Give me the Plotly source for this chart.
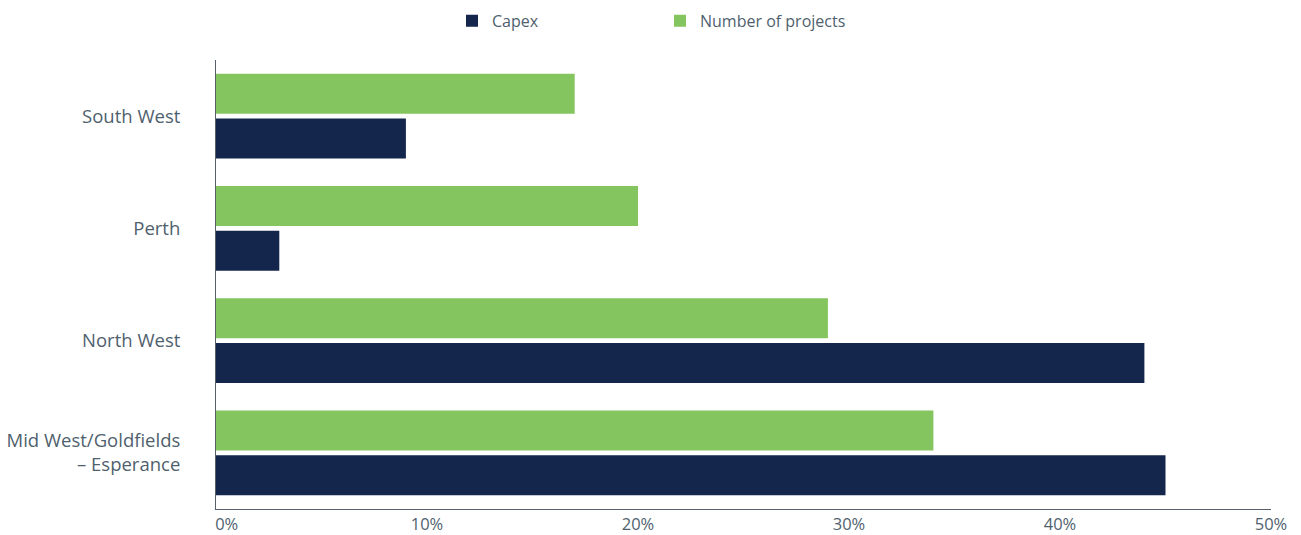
import plotly.graph_objects as go

regions = ["Mid West/Goldfields<br>– Esperance", "North West", "Perth", "South West"]
capex = [45, 44, 3, 9]
num_projects = [34, 29, 20, 17]
x_ticks = [0, 10, 20, 30, 40, 50]
x_tick_labels = ["\u00a0\u00a0\u00a0\u00a0\u00a00%", "10%", "20%", "30%", "40%", "50%"]

NAVY = "#14264c"
GREEN = "#84c55f"
TEXT = "#4f5f6e"
AXIS = "#56606b"

fig = go.Figure()
fig.add_trace(go.Bar(y=regions, x=capex, orientation="h", name="Capex",
                     marker=dict(color=NAVY, line=dict(width=0))))
fig.add_trace(go.Bar(y=regions, x=num_projects, orientation="h", name="Number of projects",
                     marker=dict(color=GREEN, line=dict(width=0))))

fig.update_layout(
    width=1301, height=535,
    margin=dict(l=216, r=30, t=60, b=26, autoexpand=False),
    paper_bgcolor="white", plot_bgcolor="white",
    font=dict(family="Open Sans", color=TEXT, size=16),
    barmode="group", bargap=0.2, bargroupgap=0.111,
    showlegend=True,
    legend=dict(orientation="h", x=0.2237, xanchor="left", y=0.993, yanchor="top",
                yref="container", font=dict(size=16, color=TEXT),
                entrywidth=163, entrywidthmode="pixels", traceorder="normal",
                itemclick=False),
    xaxis=dict(range=[0, 50], tickvals=x_ticks, ticktext=x_tick_labels,
               showgrid=False, zeroline=False, showline=True, linecolor=AXIS,
               linewidth=1, ticks="", automargin=False,
               tickfont=dict(size=16.5, color=TEXT)),
    yaxis=dict(showgrid=False, zeroline=False, showline=True, linecolor=AXIS,
               linewidth=1, ticks="", ticklabelstandoff=31, automargin=False,
               tickfont=dict(size=18.5, color=TEXT)),
)

fig.write_html("out.html")
